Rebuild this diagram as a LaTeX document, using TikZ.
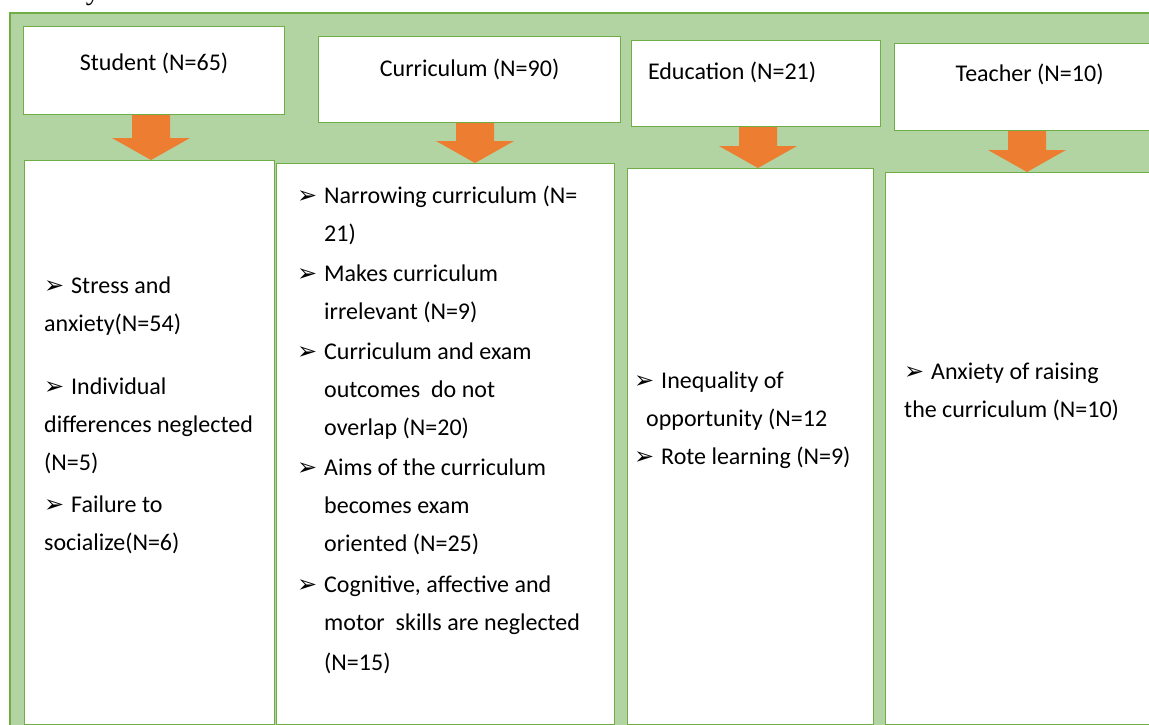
\documentclass[tikz,border=0pt]{standalone}
\usepackage{fontspec}
\setmainfont{Carlito}
\newfontfamily\symfont{DejaVu Sans}
\newfontfamily\titlefont{Liberation Serif}
\usepackage{tikz}
\usetikzlibrary{calc}

\definecolor{bggreen}{RGB}{178,212,162}
\definecolor{linegreen}{RGB}{112,173,71}
\definecolor{arroworange}{RGB}{237,125,49}

\newcommand{\bul}{\makebox[27pt][l]{\symfont\fontsize{24}{24}\selectfont ➢}}
\newcommand{\ind}{\hspace*{27pt}}
\newcommand{\blockarrow}[3]{%
  \fill[arroworange] let \p1=(#2.south), \p2=(#3.north) in
    (#1pt-19pt,\y1) -- (#1pt+19pt,\y1) -- (#1pt+19pt,\y2+22pt) -- (#1pt+39pt,\y2+22pt)
    -- (#1pt,\y2) -- (#1pt-39pt,\y2+22pt) -- (#1pt-19pt,\y2+22pt) -- cycle;}

\begin{document}
\begin{tikzpicture}[x=1pt,y=-1pt,
    every node/.style={font=\fontsize{24}{38}\selectfont, inner sep=0pt},
    headbox/.style={draw=linegreen, fill=white, line width=1.2pt, anchor=north west,
      text height=40pt, text depth=46pt},
    bodybox/.style={draw=linegreen, fill=white, line width=1.2pt, anchor=north west},
    listtext/.style={anchor=north west, align=left}]
                \useasboundingbox (0,0) rectangle (1149,725);
                \draw[draw=linegreen, fill=bggreen, line width=1.5pt] (10,13) rectangle (1170,740);
                \node[anchor=base west, font=\titlefont\fontsize{29}{29}\selectfont] at (10,0) (title) {Fidelity};
                \node[headbox, minimum width=261pt, text height=44pt, text depth=44pt] at (23,26) (hs) {Student (N=65)};
                \node[headbox, minimum width=302pt] at (318,36) (hc) {Curriculum (N=90)};
                \node[headbox, minimum width=249pt, text height=39pt, text depth=47pt] at (631,40) (he) {Education (N=21)\hspace*{48pt}};
                \node[headbox, minimum width=270pt, text height=38pt, text depth=49pt] at (894,43) (ht) {Teacher (N=10)};
                \node[bodybox, minimum width=250pt, minimum height=564pt] at (24,160) (bs) {};
                \node[bodybox, minimum width=338pt, minimum height=561pt] at (276,163) (bc) {};
                \node[bodybox, minimum width=246pt, minimum height=556pt] at (627,168) (be) {};
                \node[bodybox, minimum width=280pt, minimum height=552pt] at (885,172) (bt) {};
                \blockarrow{151}{hs}{bs}
                \blockarrow{475}{hc}{bc}
                \blockarrow{758}{he}{be}
                \blockarrow{1027}{ht}{bt}
                \node[listtext] at (44,277) (ls) {\bul Stress and\\
                  anxiety(N=54)\\[25pt]
                  \bul Individual\\
                  differences neglected\\
                  (N=5)\\[4pt]
                  \bul Failure to\\
                  socialize(N=6)};
                \node[listtext] at (297,186) (lc) {\bul Narrowing curriculum (N=\\
                  \ind 21)\\[2pt]
                  \bul Makes curriculum\\
                  \ind irrelevant (N=9)\\[2pt]
                  \bul Curriculum and exam\\
                  \ind outcomes\ \ do not\\
                  \ind overlap (N=20)\\[2pt]
                  \bul Aims of the curriculum\\
                  \ind becomes exam\\
                  \ind oriented (N=25)\\[3pt]
                  \bul Cognitive, affective and\\
                  \ind motor\ \ skills are neglected\\[2pt]
                  \ind (N=15)};
                \node[listtext] at (634,372) (le) {\bul Inequality of\\
                  \hspace*{12pt}opportunity (N=12\\
                  \bul Rote learning (N=9)};
                \node[listtext] at (904,363) (lt) {\bul Anxiety of raising\\
                  the curriculum (N=10)};
            \end{tikzpicture}
\end{document}
